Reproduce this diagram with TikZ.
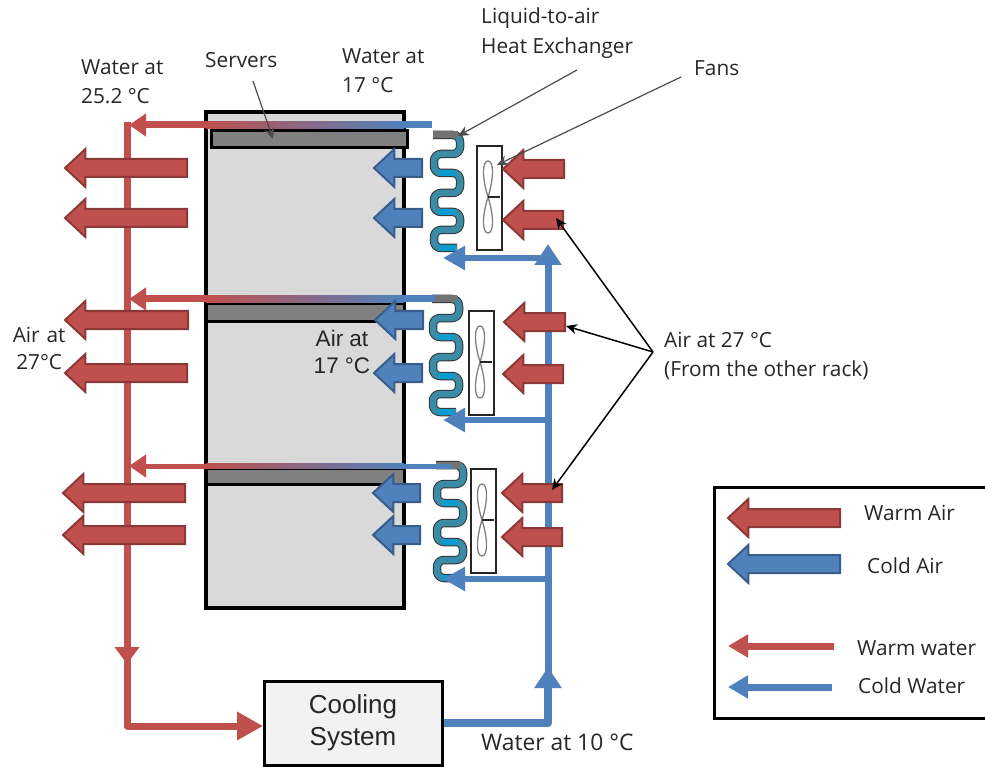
\documentclass[tikz,border=0pt]{standalone}
\usepackage{fontspec}
\setmainfont{Open Sans}
\newfontfamily\arialfont{Liberation Sans}
\usetikzlibrary{arrows.meta, shapes.arrows}

\definecolor{warmfill}{HTML}{C0504D}
\definecolor{warmedge}{HTML}{8C3836}
\definecolor{coldfill}{HTML}{4F81BD}
\definecolor{coldedge}{HTML}{385D8A}
\definecolor{coiltube}{HTML}{3A8CA6}
\definecolor{coilhot}{HTML}{0A9BD0}

\tikzset{
    airarrow/.style={single arrow, anchor=tip, shape border rotate=180, inner sep=0pt, inner ysep=8pt,
        outer sep=0pt, single arrow head extend=10pt, single arrow tip angle=86, line width=2pt},
    warmair/.style={airarrow, fill=warmfill, draw=warmedge},
    coldair/.style={airarrow, fill=coldfill, draw=coldedge},
    warmwater/.style={draw=warmfill, line width=7pt},
    coldwater/.style={draw=coldfill, line width=7pt},
    warmhead/.style={-{Triangle[length=17pt, width=24pt]}},
    coldhead/.style={-{Triangle[length=21pt, width=26pt]}},
    tag/.style={inner sep=0pt, align=left, anchor=north west, text=black!85,
        font=\fontsize{20.8}{29}\selectfont},
    arialtag/.style={inner sep=0pt, align=center, text=black!85,
        font=\arialfont\fontsize{22.5}{27}\selectfont},
    leader/.style={-{Stealth[length=11pt, width=10pt]}, line width=1.5pt, black},
    grayleader/.style={-{Stealth[length=11pt, width=10pt]}, line width=1.2pt, black!70},
    band/.style={fill=black!50, draw=black, line width=3pt},
    coilpath/.style={rounded corners=7pt, line join=round},
    coil/.pic={
        \draw[black!80, line width=8.5pt, coilpath]
            (0,0) -- (27,0) -- (27,19) -- (1,19) -- (1,38) -- (27,38) -- (27,58)
            -- (1,58) -- (1,77) -- (27,77) -- (27,95) -- (1,95) -- (1,113) -- (24,113);
        \draw[coiltube, line width=6.5pt, coilpath]
            (0,0) -- (27,0) -- (27,19) -- (1,19) -- (1,38) -- (27,38) -- (27,58)
            -- (1,58) -- (1,77) -- (27,77) -- (27,95) -- (1,95) -- (1,113) -- (24,113);
        \draw[black!55, line width=7pt] (0,0) -- (25,0);
        \foreach \y in {38, 77, 113}
            \draw[coilhot, line width=6.5pt] (6,\y) -- (22,\y);
    },
    fan/.pic={
        \draw[black!85, line width=1.4pt, fill=white] (0,0) rectangle (25,104);
        \draw[black!50, line width=1.3pt]
            (11,51) .. controls (5,32) and (5,15) .. (11,15) .. controls (17,15) and (17,32) .. (11,51)
            .. controls (5,70) and (5,87) .. (11,87) .. controls (17,87) and (17,70) .. (11,51);
        \draw[black!85, line width=1.6pt] (11,51) -- (23,51);
    },
}

\begin{document}
\begin{tikzpicture}[x=1pt, y=-1pt]
    \useasboundingbox (0,0) rectangle (985,767);

    % ── Server rack ───────────────────────────────────────────────────────────
    \filldraw[fill=black!15, draw=black, line width=3.5pt] (206,112) rectangle (404,608);
    \filldraw[band] (211,131) rectangle (407,148);
    \filldraw[band] (206,304) rectangle (404,321);
    \filldraw[band] (206,468) rectangle (404,484);

    % ── Warm water collector ──────────────────────────────────────────────────
    \coordinate (collectortop) at (127,122);
    \coordinate (collectorknee) at (127,726);
    \coordinate (collectormid) at (127,664);
    \coordinate (collectorlow) at (127,645);
    \coordinate (coolingin) at (263,726);
    \draw[warmwater, warmhead] (collectortop) -- (collectormid);
    \draw[warmwater, line join=round, -{Triangle[length=26pt, width=27pt]}] (collectorlow) -- (collectorknee) -- (coolingin);

    % ── Cooling system and cold water riser ───────────────────────────────────
    \node[draw=black, line width=3pt, fill=black!5, minimum width=178pt, minimum height=84pt,
        inner sep=0pt, align=center, text=black!85, font=\arialfont\fontsize{26}{32}\selectfont]
        (cooling) at (353,723) {Cooling\\System};
    \coordinate (riserknee) at (548,723);
    \coordinate (risermid) at (548,667);
    \coordinate (riserlow) at (548,690);
    \coordinate (risertop) at (548,244);
    \draw[coldwater, coldhead, line join=round, line width=8pt] (cooling.east) -- (riserknee) -- (risermid);
    \draw[coldwater, coldhead] (riserlow) -- (risertop);

    % ── Rows: branch, pipe above the rack, coil, fan ──────────────────────────
    \foreach \n/\by/\py/\pe/\pw/\cx/\cy/\fx/\fy in {
        1/258/125/432/7/433/135/477/146,
        2/420/299/435/7/432/299/469/311,
        3/579/466/452/5/436/465/471/469}{
        \coordinate (branch\n) at (548,\by);
        \coordinate (coilin\n) at (443,\by);
        \pic (coil\n) at (\cx,\cy) {coil};
        \draw[coldwater, line width=6pt, -{Triangle[length=22pt, width=23pt]}] (branch\n) -- (coilin\n);
        \pic (fan\n) at (\fx,\fy) {fan};
        \coordinate (pipeend\n) at (\pe,\py);
        \coordinate (pipecold\n) at (404,\py);
        \coordinate (pipewarm\n) at (206,\py);
        \coordinate (pipehead\n) at (129,\py);
        \draw[coldwater, line width=\pw pt] (pipecold\n) -- (pipeend\n);
        \shade[left color=warmfill, right color=coldfill] (206,\py-\pw/2) rectangle (404,\py+\pw/2);
        \draw[warmwater, line width=\pw pt, -{Triangle[length=17pt, width=22pt]}] (pipewarm\n) -- (pipehead\n);
    }

    % ── Air arrows ────────────────────────────────────────────────────────────
    \foreach \n/\x/\y/\l in {1/65/168/122, 2/65/218/122, 3/65/320/123, 4/65/373/122, 5/63/493/122, 6/63/535/122}
        \node[warmair, minimum height=\l] (warmout\n) at (\x,\y) {};
    \foreach \n/\x/\y/\l in {1/374/168/48, 2/374/218/48, 3/375/320/48, 4/374/373/48, 5/373/493/47, 6/373/535/47}
        \node[coldair, minimum height=\l] (coldout\n) at (\x,\y) {};
    \foreach \n/\x/\y/\l in {1/503/169/61, 2/503/220/60, 3/504/322/61, 4/503/374/60, 5/502/493/60, 6/502/537/60}
        \node[warmair, minimum height=\l] (warmin\n) at (\x,\y) {};

    % ── Labels ────────────────────────────────────────────────────────────────
    \node[tag] (waterout) at (81,59) {Water at\\25.2 °C};
    \node[tag] (servers) at (205,52) {Servers};
    \node[tag] (waterin) at (342,48) {Water at\\17 °C};
    \node[tag] (exchanger) at (481,8) {Liquid-to-air\\Heat Exchanger};
    \node[tag] (fans) at (694,60) {Fans};
    \node[tag] (airother) at (664,332) {Air at 27 °C\\(From the other rack)};
    \node[tag, align=center, text width=58pt, font=\fontsize{20.8}{27}\selectfont] (airleft) at (10,327) {Air at\\27°C};
    \node[arialtag] (aircold) at (342,352) {Air at\\17 °C};
    \node[tag, font=\fontsize{22.8}{29}\selectfont] (waterten) at (481,734) {Water at 10 °C};

    % ── Leaders ───────────────────────────────────────────────────────────────
    \coordinate (serverstart) at (253,81);
    \coordinate (servertip) at (273,139);
    \coordinate (exchangerstart) at (577,70);
    \coordinate (exchangertip) at (458,136);
    \coordinate (fansstart) at (681,77);
    \coordinate (fanstip) at (497,165);
    \coordinate (airfork) at (653,352);
    \coordinate (airtipa) at (556,218);
    \coordinate (airtipb) at (566,326);
    \coordinate (airtipc) at (552,490);
    \draw[grayleader] (serverstart) -- (servertip);
    \draw[grayleader] (exchangerstart) -- (exchangertip);
    \draw[grayleader] (fansstart) -- (fanstip);
    \draw[leader] (airfork) -- (airtipa);
    \draw[leader] (airfork) -- (airtipb);
    \draw[leader] (airfork) -- (airtipc);

    % ── Legend ────────────────────────────────────────────────────────────────
    \draw[black, line width=3pt] (985,487) -- (714,487) -- (714,718) -- (985,718);
    \node[warmair, minimum height=112] (keywarmair) at (728,518) {};
    \node[coldair, minimum height=112] (keycoldair) at (728,564) {};
    \coordinate (keywarmstart) at (834,646);
    \coordinate (keywarmtip) at (728,646);
    \coordinate (keycoldstart) at (832,687);
    \coordinate (keycoldtip) at (728,687);
    \draw[warmwater, -{Triangle[length=20pt, width=22pt]}] (keywarmstart) -- (keywarmtip);
    \draw[coldwater, -{Triangle[length=20pt, width=22pt]}] (keycoldstart) -- (keycoldtip);
    \node[tag] (keytexta) at (864,505) {Warm Air};
    \node[tag] (keytextb) at (867,557) {Cold Air};
    \node[tag] (keytextc) at (857,640) {Warm water};
    \node[tag] (keytextd) at (858,677) {Cold Water};

\end{tikzpicture}
\end{document}
